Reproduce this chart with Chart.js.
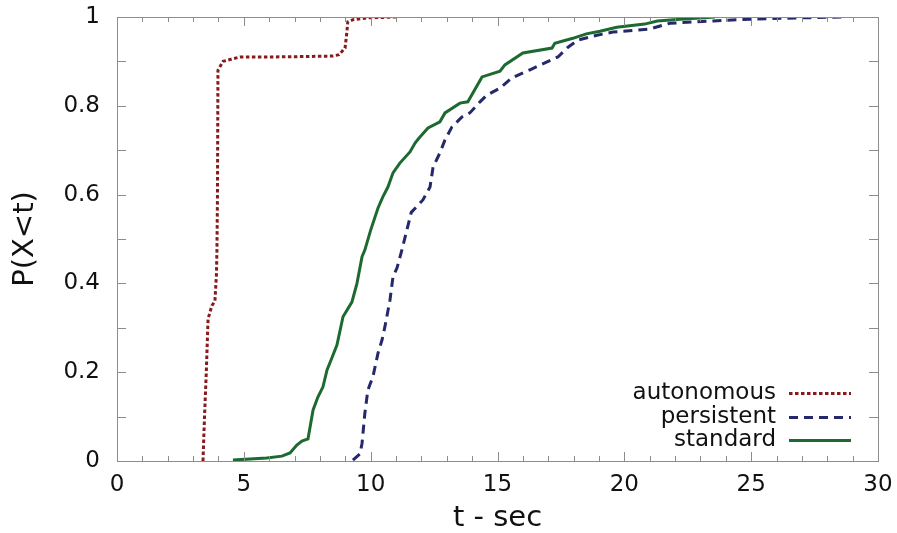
<!DOCTYPE html>
<html>
<head>
<meta charset="utf-8">
<script src="https://cdn.jsdelivr.net/npm/chart.js@4"></script>
<style>
  html, body { margin: 0; padding: 0; background: #fff; }
  #wrap { width: 897px; height: 533px; }
</style>
</head>
<body>
<div id="wrap"><canvas id="cdf"></canvas></div>
<script>
// valores (t em segundos, P(X<t))
const autonomousT = [3.39, 3.45, 3.52, 3.59, 3.74, 3.86, 3.92, 3.94, 3.96, 3.98, 4.18, 4.5, 4.85, 6.0, 7.5, 8.5, 8.75, 8.99, 9.05, 9.1, 9.3, 9.85, 10.5, 11.0];
const autonomousP = [0.0, 0.1, 0.2, 0.32, 0.35, 0.36, 0.42, 0.475, 0.59, 0.88, 0.90, 0.905, 0.91, 0.91, 0.911, 0.912, 0.915, 0.93, 0.96, 0.989, 0.994, 0.998, 0.999, 1.0];

const persistentT = [9.3, 9.58, 9.66, 9.77, 9.89, 10.09, 10.29, 10.45, 10.56, 10.76, 10.88, 11.04, 11.23, 11.6, 12.06, 12.34, 12.46, 12.73, 12.93, 13.2, 13.6, 13.91, 14.31, 14.58, 15.1, 15.57, 16.28, 17.38, 17.78, 18.17, 18.92, 19.55, 21.0, 21.8, 23.5, 24.95, 26.9, 28.6];
const persistentP = [0.002, 0.016, 0.04, 0.107, 0.16, 0.19, 0.243, 0.273, 0.302, 0.362, 0.415, 0.435, 0.475, 0.56, 0.588, 0.617, 0.662, 0.694, 0.723, 0.752, 0.775, 0.784, 0.809, 0.824, 0.84, 0.863, 0.881, 0.91, 0.932, 0.948, 0.959, 0.966, 0.973, 0.986, 0.991, 0.995, 0.998, 1.0];

const standardT = [4.57, 5.9, 6.5, 6.82, 7.09, 7.29, 7.53, 7.73, 7.92, 8.12, 8.28, 8.47, 8.67, 8.91, 9.26, 9.46, 9.66, 9.77, 10.0, 10.29, 10.48, 10.68, 10.88, 11.15, 11.55, 11.75, 11.9, 12.26, 12.73, 12.93, 13.52, 13.83, 14.39, 15.1, 15.29, 16.0, 17.15, 17.26, 17.97, 18.5, 19.04, 19.7, 20.8, 21.3, 22.2, 23.57];
const standardP = [0.002, 0.007, 0.011, 0.018, 0.036, 0.045, 0.05, 0.115, 0.144, 0.167, 0.205, 0.232, 0.261, 0.325, 0.358, 0.40, 0.46, 0.475, 0.52, 0.57, 0.595, 0.617, 0.649, 0.671, 0.696, 0.716, 0.727, 0.75, 0.764, 0.784, 0.806, 0.809, 0.865, 0.878, 0.892, 0.919, 0.93, 0.941, 0.952, 0.962, 0.968, 0.977, 0.984, 0.991, 0.995, 1.0];

const xTicks = [0, 5, 10, 15, 20, 25, 30];
const yTicks = [0, 0.2, 0.4, 0.6, 0.8, 1];

const FONT = "'DejaVu Sans', 'Liberation Sans', sans-serif";

function toPoints(ts, ps) {
    return ts.map((t, i) => ({ x: t, y: ps[i] }));
}

// caixa com marcas para dentro (estilo gnuplot) + legenda no canto
const boxPlugin = {
    id: 'boxTicks',
    afterDraw(chart) {
        const { ctx, chartArea: a, scales } = chart;
        const xs = scales.x, ys = scales.y;
        ctx.save();
        ctx.strokeStyle = '#8c8c8c';
        ctx.lineWidth = 1;
        ctx.beginPath();
        for (let v = 0; v <= 30; v++) {
            const px = Math.round(xs.getPixelForValue(v)) + 0.5;
            const len = v % 5 === 0 ? 9 : 5;
            ctx.moveTo(px, a.bottom); ctx.lineTo(px, a.bottom - len);
            ctx.moveTo(px, a.top); ctx.lineTo(px, a.top + len);
        }
        for (let k = 0; k <= 10; k++) {
            const py = Math.round(ys.getPixelForValue(k / 10)) + 0.5;
            ctx.moveTo(a.left, py); ctx.lineTo(a.left + 9, py);
            ctx.moveTo(a.right, py); ctx.lineTo(a.right - 9, py);
        }
        ctx.stroke();
        ctx.strokeRect(Math.round(a.left) + 0.5, Math.round(a.top) + 0.5,
                       Math.round(a.right - a.left), Math.round(a.bottom - a.top));

        // legenda
        const rows = [393, 417, 440];
        ctx.font = '23px ' + FONT;
        ctx.textAlign = 'right';
        ctx.textBaseline = 'middle';
        chart.data.datasets.forEach((ds, i) => {
            const y = rows[i];
            ctx.fillStyle = '#111';
            ctx.fillText(ds.label, 776, y);
            ctx.strokeStyle = ds.borderColor;
            ctx.lineWidth = ds.borderWidth;
            ctx.setLineDash(ds.borderDash || []);
            ctx.beginPath();
            ctx.moveTo(789, y + 0.5);
            ctx.lineTo(851, y + 0.5);
            ctx.stroke();
            ctx.setLineDash([]);
        });
        ctx.restore();
    }
};

new Chart(document.getElementById('cdf'), {
    type: 'line',
    data: {
        datasets: [
            {
                label: 'autonomous',
                data: toPoints(autonomousT, autonomousP),
                borderColor: '#861a1c',
                borderWidth: 3,
                borderDash: [3.5, 2.5],
                pointRadius: 0,
                tension: 0,
                fill: false
            },
            {
                label: 'persistent',
                data: toPoints(persistentT, persistentP),
                borderColor: '#25286a',
                borderWidth: 3,
                borderDash: [9, 6],
                pointRadius: 0,
                tension: 0,
                fill: false
            },
            {
                label: 'standard',
                data: toPoints(standardT, standardP),
                borderColor: '#1d6a30',
                borderWidth: 3,
                pointRadius: 0,
                tension: 0,
                fill: false
            }
        ]
    },
    options: {
        responsive: true,
        maintainAspectRatio: false,
        animation: false,
        layout: { padding: { top: 17, right: 19, left: 0, bottom: 0 } },
        plugins: {
            legend: { display: false },
            tooltip: { enabled: false }
        },
        scales: {
            x: {
                type: 'linear',
                min: 0,
                max: 30,
                afterBuildTicks: (s) => { s.ticks = xTicks.map(v => ({ value: v })); },
                afterFit: (s) => { s.height = 72; s.paddingLeft = 0; s.paddingRight = 0; },
                grid: { display: false, drawTicks: false },
                border: { display: false },
                ticks: {
                    color: '#111',
                    font: { family: FONT, size: 23 },
                    padding: 10,
                    maxRotation: 0
                },
                title: {
                    display: true,
                    text: 't - sec',
                    color: '#111',
                    font: { family: FONT, size: 29, lineHeight: 1 },
                    padding: { top: 0, bottom: 0 }
                }
            },
            y: {
                type: 'linear',
                min: 0,
                max: 1,
                afterBuildTicks: (s) => { s.ticks = yTicks.map(v => ({ value: v })); },
                afterFit: (s) => { s.width = 117; s.paddingTop = 0; s.paddingBottom = 0; },
                grid: { display: false, drawTicks: false },
                border: { display: false },
                ticks: {
                    color: '#111',
                    font: { family: FONT, size: 23 },
                    padding: 17,
                    callback: (v) => String(Number(v.toFixed(1)))
                },
                title: {
                    display: true,
                    text: 'P(X<t)',
                    color: '#111',
                    font: { family: FONT, size: 29, lineHeight: 1 },
                    padding: { top: 11, bottom: 0 }
                }
            }
        }
    },
    plugins: [boxPlugin]
});
</script>
</body>
</html>
